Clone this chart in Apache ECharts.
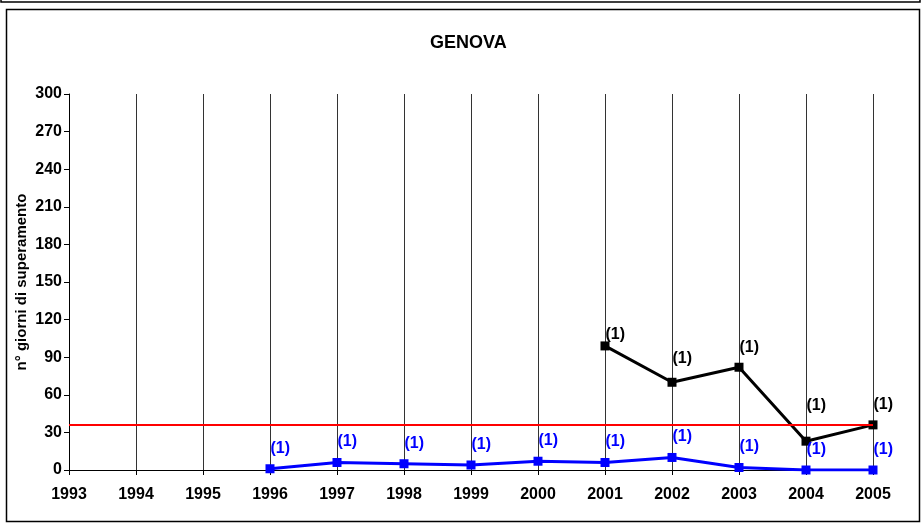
<!DOCTYPE html>
<html>
<head>
<meta charset="utf-8">
<script src="https://cdn.jsdelivr.net/npm/echarts@6/dist/echarts.min.js"></script>
<style>
  html, body { margin: 0; padding: 0; background: #fff; }
  #chart { width: 921px; height: 526px; }
</style>
</head>
<body>
<div id="chart"></div>
<script>
// dati
var anni = ["1993", "1994", "1995", "1996", "1997", "1998", "1999", "2000", "2001", "2002", "2003", "2004", "2005"];
var serieNera = [null, null, null, null, null, null, null, null, 99, 70, 82, 23, 36];
var serieBlu = [null, null, null, 1, 6, 5, 4, 7, 6, 10, 2, 0, 0];
var limite = 36;
var etichetta = "(1)";

// spostamento verticale delle etichette nere (come in Excel)
var spostNera = [0, 0, 0, 0, 0, 0, 0, 0, -15, -27, -23, -39, -24];

var chart = echarts.init(document.getElementById("chart"));
var font = "Liberation Sans, Arial, sans-serif";

var datiNera = serieNera.map(function (v, i) {
  if (v === null) return null;
  return { value: v, label: { position: [5, spostNera[i]] } };
});

var option = {
  animation: false,
  title: {
    text: "GENOVA",
    left: 425,
    top: 29,
    textStyle: { fontFamily: font, fontSize: 18, fontWeight: "bold", color: "#000" }
  },
  graphic: [
    // cornice superiore (grafico precedente)
    { type: "rect", shape: { x: 1, y: -10, width: 919, height: 12 }, style: { fill: "none", stroke: "#000", lineWidth: 1.5 } },
    // cornice del grafico
    { type: "rect", shape: { x: 6.5, y: 9.5, width: 913, height: 512 }, style: { fill: "none", stroke: "#000", lineWidth: 1.5 } }
  ],
  grid: { left: 69, right: 48, top: 94, bottom: 56, outerBoundsMode: "none" },
  xAxis: {
    type: "category",
    data: anni,
    boundaryGap: false,
    axisLine: { lineStyle: { color: "#000", width: 1 } },
    axisTick: { show: true, length: 5, lineStyle: { color: "#000" } },
    axisLabel: { color: "#000", fontFamily: font, fontWeight: "bold", fontSize: 16, margin: 17 },
    splitLine: { show: true, lineStyle: { color: "#333", width: 1 } }
  },
  yAxis: {
    type: "value",
    min: 0,
    max: 300,
    interval: 30,
    name: "n° giorni di superamento",
    nameLocation: "middle",
    nameGap: 40,
    nameMoveOverlap: false,
    nameTextStyle: { color: "#000", fontFamily: font, fontWeight: "bold", fontSize: 15 },
    axisLine: { show: true, lineStyle: { color: "#000", width: 1 } },
    axisTick: { show: true, length: 5, lineStyle: { color: "#000" } },
    axisLabel: { color: "#000", fontFamily: font, fontWeight: "bold", fontSize: 16, margin: 7 },
    splitLine: { show: false }
  },
  series: [
    {
      name: "nera",
      type: "line",
      data: datiNera,
      color: "#000",
      symbol: "rect",
      symbolSize: 9,
      lineStyle: { width: 3, color: "#000" },
      itemStyle: { color: "#000" },
      label: {
        show: true,
        formatter: etichetta,
        color: "#000",
        fontFamily: font,
        fontWeight: "bold",
        fontSize: 16
      },
      markLine: {
        silent: true,
        symbol: "none",
        label: { show: false },
        lineStyle: { color: "#ff0000", width: 2, type: "solid" },
        data: [{ yAxis: limite }]
      },
      z: 3
    },
    {
      name: "blu",
      type: "line",
      data: serieBlu,
      color: "#0000ff",
      symbol: "rect",
      symbolSize: 9,
      lineStyle: { width: 3, color: "#0000ff" },
      itemStyle: { color: "#0000ff" },
      label: {
        show: true,
        formatter: etichetta,
        position: [5, -24],
        color: "#0000ff",
        fontFamily: font,
        fontWeight: "bold",
        fontSize: 16
      },
      z: 4
    }
  ]
};

chart.setOption(option);
</script>
</body>
</html>
